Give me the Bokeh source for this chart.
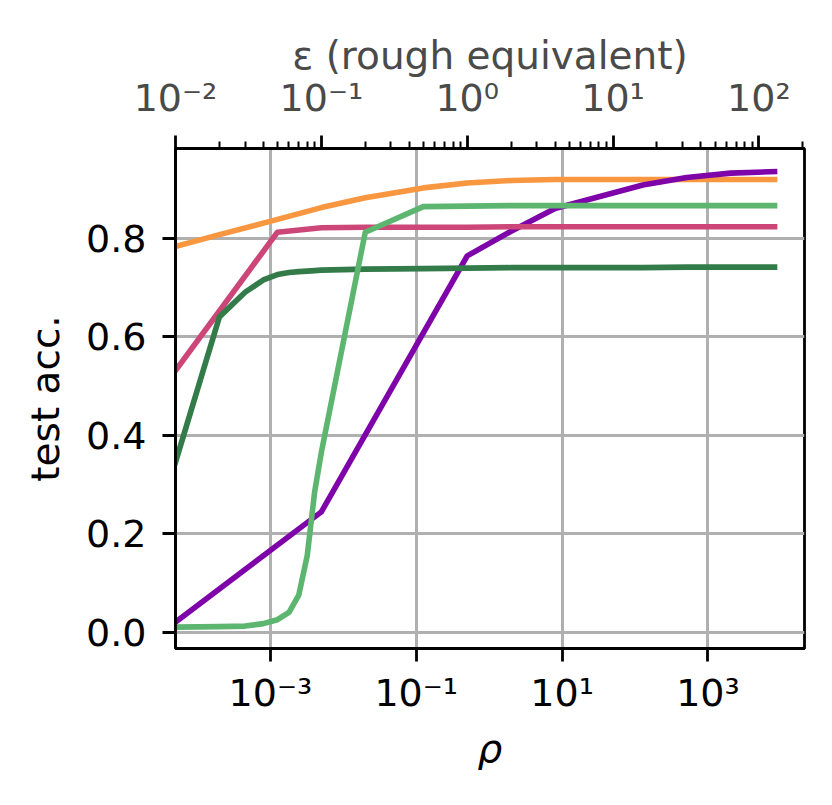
import math
from bokeh.plotting import figure
from bokeh.models import Range1d, LogAxis, LogScale, FixedTicker
from bokeh.embed import file_html
from bokeh.resources import INLINE

# ---- data (epsilon grid; rho = eps^2 / 2) ----
orange_eps = [0.01, 0.02, 0.05, 0.1, 0.2, 0.5, 1, 2, 4, 8, 16, 32, 64, 128]
orange_acc = [0.783, 0.807, 0.838, 0.862, 0.882, 0.902, 0.912, 0.917, 0.919, 0.919, 0.919, 0.919, 0.919, 0.919]

pink_eps = [0.01, 0.05, 0.1, 0.2, 0.5, 1, 2, 4, 8, 16, 32, 64, 128]
pink_acc = [0.531, 0.812, 0.821, 0.822, 0.822, 0.822, 0.823, 0.823, 0.823, 0.823, 0.823, 0.823, 0.823]

purple_eps = [0.01, 0.1, 1, 2, 4, 8, 16, 32, 64, 128]
purple_acc = [0.020, 0.244, 0.764, 0.814, 0.860, 0.884, 0.908, 0.923, 0.932, 0.935]

dgreen_eps = [0.01, 0.02, 0.03, 0.04, 0.05, 0.06, 0.07, 0.08, 0.09, 0.1, 0.2, 0.5, 1, 2, 4, 8, 16, 32, 64, 128]
dgreen_acc = [0.345, 0.640, 0.690, 0.715, 0.726, 0.730, 0.732, 0.733, 0.734, 0.735, 0.737, 0.738, 0.739,
              0.740, 0.740, 0.740, 0.740, 0.741, 0.741, 0.741]

lgreen_eps = [0.01, 0.02, 0.03, 0.04, 0.05, 0.06, 0.07, 0.08, 0.09, 0.1, 0.2, 0.5, 1, 2, 4, 8, 16, 32, 64, 128]
lgreen_acc = [0.010, 0.011, 0.012, 0.017, 0.025, 0.040, 0.075, 0.155, 0.285, 0.365, 0.812, 0.864, 0.865,
              0.866, 0.866, 0.866, 0.866, 0.866, 0.866, 0.866]

series = [
    (orange_eps, orange_acc, "#f99740"),
    (purple_eps, purple_acc, "#7e03a8"),
    (pink_eps, pink_acc, "#cc4778"),
    (dgreen_eps, dgreen_acc, "#347b4a"),
    (lgreen_eps, lgreen_acc, "#5db670"),
]

rho_ticks = [1e-3, 1e-1, 1e1, 1e3]
rho_tick_labels = ["10⁻³", "10⁻¹", "10¹", "10³"]
eps_ticks = [0.01, 0.1, 1, 10, 100]
eps_tick_labels = ["10⁻²", "10⁻¹", "10⁰", "10¹", "10²"]
acc_ticks = [0.0, 0.2, 0.4, 0.6, 0.8]
acc_tick_labels = ["0.0", "0.2", "0.4", "0.6", "0.8"]

FONT = "DejaVu Sans"
TICK_SIZE = "38px"
LABEL_SIZE = "39px"

rho_lo, rho_hi = 5e-5, 10 ** 4.324
p = figure(
    x_axis_type="log",
    x_range=Range1d(rho_lo, rho_hi),
    y_range=Range1d(-0.0335, 0.982),
    extra_x_ranges={"eps": Range1d(math.sqrt(2 * rho_lo), math.sqrt(2 * rho_hi))},
    extra_x_scales={"eps": LogScale()},
    frame_width=629, frame_height=500,
    min_border_left=175, min_border_right=20, min_border_top=148, min_border_bottom=140,
    output_backend="svg", toolbar_location=None,
    background_fill_color="white", border_fill_color="white",
)
p.outline_line_color = "black"
p.outline_line_width = 2.8

for eps, acc, col in series:
    rho = [e * e / 2 for e in eps]
    p.line(rho, acc, line_color=col, line_width=5.6, line_cap="square", line_join="round")


def style(ax, color="black"):
    ax.axis_line_color = "black"
    ax.axis_line_width = 2.8
    ax.major_tick_line_color = "black"
    ax.major_tick_line_width = 2.8
    ax.major_tick_out = 13
    ax.major_tick_in = 0
    ax.minor_tick_line_color = "black"
    ax.minor_tick_line_width = 2.0
    ax.minor_tick_out = 7
    ax.minor_tick_in = 0
    ax.major_label_text_font = FONT
    ax.major_label_text_font_size = TICK_SIZE
    ax.major_label_text_color = color
    ax.axis_label_text_font = FONT
    ax.axis_label_text_font_size = LABEL_SIZE
    ax.axis_label_text_color = color
    ax.axis_label_text_font_style = "normal"


xa = p.xaxis[0]
xa.ticker = FixedTicker(ticks=rho_ticks, minor_ticks=[])
xa.major_label_overrides = dict(zip(rho_ticks, rho_tick_labels))
xa.axis_label = "ρ"
style(xa)
xa.axis_label_text_font_style = "italic"
xa.major_label_standoff = 9
xa.axis_label_standoff = 8

ya = p.yaxis[0]
ya.ticker = FixedTicker(ticks=acc_ticks, minor_ticks=[])
ya.major_label_overrides = dict(zip(acc_ticks, acc_tick_labels))
ya.axis_label = "test acc."
style(ya)
ya.major_label_standoff = 16
ya.axis_label_standoff = 15

minor_eps = [m * 10.0 ** k for k in range(-2, 3) for m in range(2, 10) if m * 10.0 ** k < math.sqrt(2 * rho_hi)]
top = LogAxis(x_range_name="eps", ticker=FixedTicker(ticks=eps_ticks, minor_ticks=minor_eps))
top.major_label_overrides = dict(zip(eps_ticks, eps_tick_labels))
top.axis_label = "ε (rough equivalent)"
style(top, color="#4a4a4a")
top.major_label_standoff = 16
top.axis_label_standoff = -5
p.add_layout(top, "above")

for g in (p.xgrid[0], p.ygrid[0]):
    g.grid_line_color = "#b0b0b0"
    g.grid_line_width = 3

open("out.html", "w").write(file_html(p, INLINE))
